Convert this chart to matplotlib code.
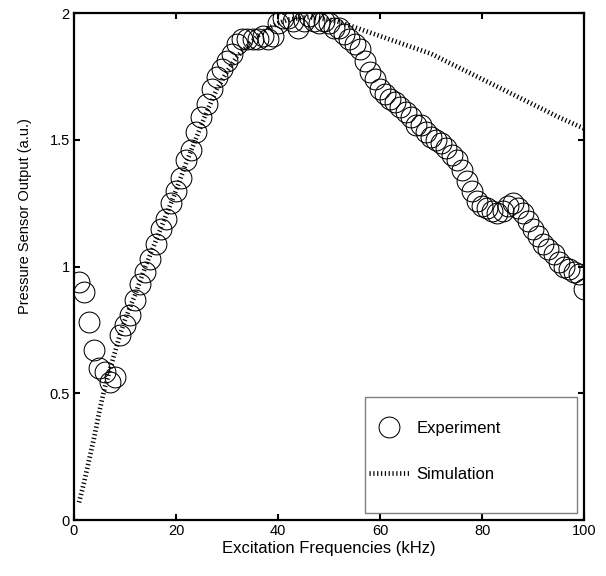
import numpy as np
import matplotlib.pyplot as plt
from matplotlib.patches import Rectangle

plt.rcParams['font.family'] = ['Liberation Sans', 'DejaVu Sans']

# experiment: one reading per kHz, 1..100 kHz
exp_freq = list(range(1, 101))
exp_out = [0.94, 0.90, 0.78, 0.67, 0.60, 0.585, 0.545, 0.565, 0.73, 0.77,
           0.81, 0.87, 0.93, 0.98, 1.03, 1.09, 1.15, 1.19, 1.25, 1.30,
           1.35, 1.42, 1.46, 1.53, 1.59, 1.64, 1.70, 1.75, 1.78, 1.81,
           1.84, 1.88, 1.90, 1.90, 1.90, 1.90, 1.91, 1.90, 1.91, 1.96,
           1.98, 1.98, 1.97, 1.94, 1.97, 1.99, 1.97, 1.96, 1.97, 1.96,
           1.94, 1.94, 1.92, 1.90, 1.88, 1.86, 1.81, 1.77, 1.74, 1.70,
           1.68, 1.66, 1.65, 1.63, 1.61, 1.59, 1.56, 1.56, 1.53, 1.51,
           1.50, 1.49, 1.47, 1.44, 1.42, 1.38, 1.34, 1.30, 1.26, 1.24,
           1.23, 1.22, 1.21, 1.22, 1.24, 1.25, 1.23, 1.21, 1.18, 1.15,
           1.12, 1.09, 1.07, 1.05, 1.02, 1.00, 0.99, 0.98, 0.97, 0.91]

# simulation curve
sim_freq = [1, 2, 3, 4, 5, 6, 7, 8, 9, 10, 12, 14, 16, 18, 20, 22, 24, 26, 28, 30,
            32, 34, 36, 38, 40, 42, 44, 46, 48, 50, 52, 55, 60, 65, 70, 75, 80,
            85, 90, 95, 100]
sim_out = [0.07, 0.15, 0.24, 0.33, 0.43, 0.52, 0.59, 0.66, 0.73, 0.79, 0.89, 1.00,
           1.10, 1.20, 1.30, 1.41, 1.51, 1.61, 1.70, 1.77, 1.83, 1.87, 1.91, 1.94,
           1.96, 1.975, 1.98, 1.985, 1.98, 1.975, 1.965, 1.945, 1.91, 1.875, 1.84,
           1.79, 1.74, 1.69, 1.64, 1.59, 1.545]

fig = plt.figure(figsize=(6.06, 5.76), dpi=100)
ax = fig.add_axes([0.122, 0.097, 0.842, 0.88])

ax.plot(exp_freq, exp_out, 'o', mfc='none', mec='black', ms=15, mew=0.75,
        label='Experiment')
ax.plot(sim_freq, sim_out, color='black', lw=3.4, linestyle=(0, (0.26, 0.55)),
        dash_capstyle='butt', label='Simulation')

ax.set_xlim(0, 100)
ax.set_ylim(0, 2)
ax.set_xticks([0, 20, 40, 60, 80, 100])
ax.set_yticks([0, 0.5, 1, 1.5, 2])
ax.set_yticklabels(['0', '0.5', '1', '1.5', '2'])
ax.tick_params(direction='in', top=True, right=True, length=4, width=1.5,
               labelsize=10.5, pad=3)
for s in ax.spines.values():
    s.set_linewidth(1.6)

ax.set_xlabel('Excitation Frequencies (kHz)', fontsize=12, labelpad=2)
ax.set_ylabel('Pressure Sensor Output (a.u.)', fontsize=10.5)
ax.yaxis.set_label_coords(-0.082, 0.60)

# legend box
ax.add_patch(Rectangle((0.571, 0.014), 0.415, 0.229, transform=ax.transAxes,
                       facecolor='white', edgecolor='gray', lw=1.0, zorder=4))
leg = ax.legend(loc='upper left', bbox_to_anchor=(0.578, 0.196),
                fontsize=12, frameon=False, handlelength=2.4,
                labelspacing=1.85, borderpad=0, handletextpad=0.45,
                borderaxespad=0)
leg.set_zorder(5)

fig.savefig('out.png', dpi=100)
